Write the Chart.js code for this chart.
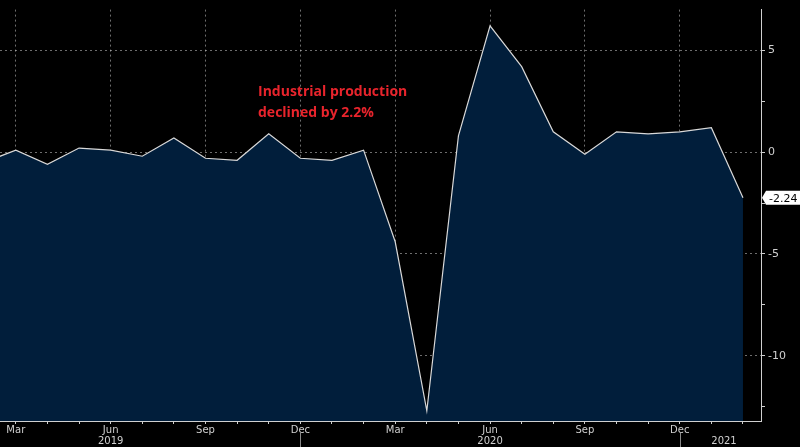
<!DOCTYPE html>
<html><head><meta charset="utf-8">
<script src="https://cdn.jsdelivr.net/npm/chart.js@4/dist/chart.umd.min.js"></script>
<style>html,body{margin:0;padding:0;background:#000;}#w{width:800px;height:447px;}</style>
</head><body><div id="w"><canvas id="c"></canvas></div>
<script>
const monthNames = ['Feb','Mar','Apr','May','Jun','Jul','Aug','Sep','Oct','Nov','Dec','Jan','Feb','Mar','Apr','May','Jun','Jul','Aug','Sep','Oct','Nov','Dec','Jan','Feb'];
const values = [-0.5,0.1,-0.6,0.2,0.1,-0.2,0.7,-0.3,-0.4,0.9,-0.3,-0.4,0.1,-4.4,-12.7,0.8,6.2,4.2,1.0,-0.1,1.0,0.9,1.0,1.2,-2.24];
const quarterMonths = ['Mar','Jun','Sep','Dec'];
const yearLabels = [{label:'2019', at:4},{label:'2020', at:16},{label:'2021', at:23.4}];
const yearSeparators = [10, 22];
const annotationLines = ['Industrial production','declined by 2.2%'];
const lastLabel = '-2.24';

const points = values.map((v,i)=>({x:i,y:v}));
const grey = 'rgba(200,200,200,0.55)';

const extras = {
  id:'extras',
  afterDraw(chart){
    const {ctx, scales:{x,y}, chartArea} = chart;
    ctx.save();
    ctx.fillStyle = '#d0d0d0';
    ctx.font = '10px "DejaVu Sans"';
    ctx.textAlign='center'; ctx.textBaseline='middle';
    yearLabels.forEach(o=>ctx.fillText(o.label, x.getPixelForValue(o.at), 441));
    ctx.strokeStyle='#888'; ctx.lineWidth=1;
    yearSeparators.forEach(v=>{const px=Math.round(x.getPixelForValue(v))+0.5;ctx.beginPath();ctx.moveTo(px,chartArea.bottom+12);ctx.lineTo(px,447);ctx.stroke();});
    ctx.fillStyle='#e8242c'; ctx.font='bold 14px "Open Sans"'; ctx.textAlign='left'; ctx.textBaseline='middle';
    annotationLines.forEach((t,i)=>ctx.fillText(t, 258, 92+i*21));
    const yy = y.getPixelForValue(values[values.length-1]);
    const bx = chartArea.right+5;
    ctx.font='11px "DejaVu Sans"';
    const w = ctx.measureText(lastLabel).width+6;
    ctx.fillStyle='#fff';
    ctx.beginPath(); ctx.moveTo(chartArea.right+1,yy); ctx.lineTo(bx,yy-7); ctx.lineTo(bx+w,yy-7); ctx.lineTo(bx+w,yy+7); ctx.lineTo(bx,yy+7); ctx.closePath(); ctx.fill();
    ctx.fillStyle='#000'; ctx.textAlign='left'; ctx.fillText(lastLabel,bx+3,yy+1);
    ctx.restore();
  }
};

new Chart(document.getElementById('c'),{
  type:'line',
  data:{datasets:[{data:points,borderColor:'#d8d8d8',borderWidth:1.2,backgroundColor:'#011e3b',fill:'start',pointRadius:0,tension:0}]},
  options:{
    responsive:true,maintainAspectRatio:false,animation:false,
    layout:{padding:{top:-9,left:0,right:0,bottom:0}},
    plugins:{legend:{display:false},tooltip:{enabled:false}},
    scales:{
      x:{type:'linear',min:0.5,max:24.57,
        afterFit(s){s.height=26;},
        afterBuildTicks(s){const t=[];for(let i=1;i<=24;i++)t.push({value:i});s.ticks=t;},
        ticks:{color:'#d0d0d0',font:{size:10,family:'DejaVu Sans'},autoSkip:false,maxRotation:0,padding:0,
          callback:(v)=>quarterMonths.includes(monthNames[v])?monthNames[v]:''},
        grid:{color:(c)=>c.tick&&quarterMonths.includes(monthNames[c.tick.value])?grey:'rgba(0,0,0,0)',
          tickColor:'#d0d0d0',tickLength:3,drawOnChartArea:true},
        border:{color:'#d0d0d0',width:1,dash:[2,3]}},
      y:{type:'linear',position:'right',min:-13.2,max:7.0,
        afterFit(s){s.width=39;},
        afterBuildTicks(s){s.ticks=[-12.5,-10,-7.5,-5,-2.5,0,2.5,5].map(v=>({value:v}));},
        ticks:{color:'#d0d0d0',font:{size:11,family:'DejaVu Sans'},padding:3,
          callback:(v)=>v%5===0?String(v):''},
        grid:{color:(c)=>c.tick&&c.tick.value%5===0?grey:'rgba(0,0,0,0)',tickColor:'#d0d0d0',tickLength:4},
        border:{color:'#d0d0d0',width:1,dash:[2,3]}}
    }
  },
  plugins:[extras]
});
</script></body></html>
